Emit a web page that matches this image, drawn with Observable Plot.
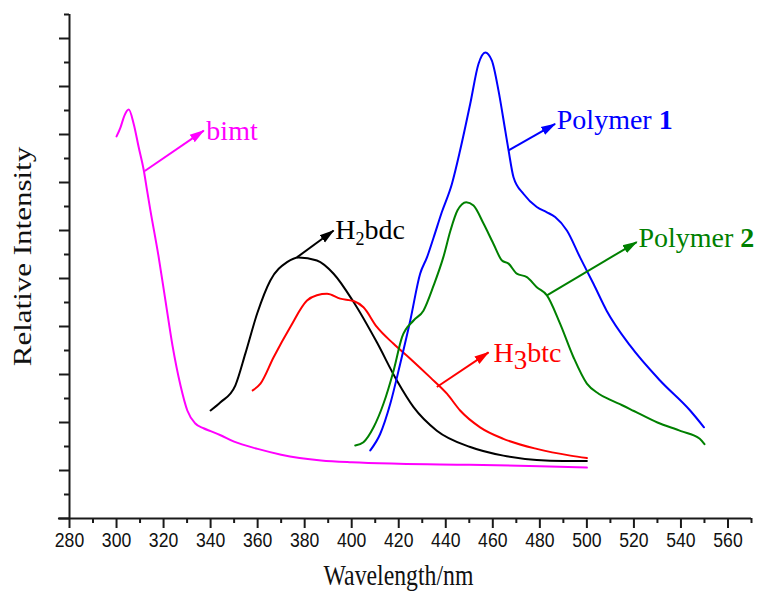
<!DOCTYPE html>
<html>
<head>
<meta charset="utf-8">
<script src="https://cdn.jsdelivr.net/npm/d3@7"></script>
<script src="https://cdn.jsdelivr.net/npm/@observablehq/plot@0.6"></script>
<style>
  body { margin: 0; background: #fff; }
  #chart { width: 758px; height: 594px; }
</style>
</head>
<body>
<div id="chart"></div>
<script>
// ---- data (wavelength in nm, relative intensity in arbitrary units) ----
const bimtX = [300, 301.7, 303.4, 305.2, 307.3, 309.4, 311.6, 313, 314.4, 317.8, 320.8, 323.8, 327.2, 330.1, 333.5, 337, 340, 344, 350, 360, 370, 387, 400, 420, 450, 480, 500];
const bimtY = [7.96, 8.15, 8.4, 8.52, 8.22, 7.74, 7.25, 6.83, 6.42, 5.48, 4.54, 3.6, 2.77, 2.25, 1.98, 1.88, 1.82, 1.74, 1.6, 1.45, 1.33, 1.21, 1.17, 1.14, 1.12, 1.09, 1.06];

const h2bdcX = [340, 344.2, 350.5, 354.8, 359.8, 365.4, 372.5, 377.4, 385.2, 392.3, 400.8, 410.7, 419.2, 426.3, 436.2, 450.4, 464.5, 478.7, 490, 500];
const h2bdcY = [2.25, 2.42, 2.77, 3.44, 4.27, 4.96, 5.34, 5.44, 5.375, 5.1, 4.51, 3.67, 2.875, 2.32, 1.83, 1.49, 1.31, 1.22, 1.2, 1.2];

const h3btcX = [357.9, 361.2, 366.8, 373.9, 381, 385.2, 389.5, 395.1, 400.8, 405, 410.7, 417.8, 424.9, 433.4, 440.5, 446.1, 454.6, 464.5, 478.7, 493, 500];
const h3btcY = [2.67, 2.81, 3.36, 3.99, 4.54, 4.65, 4.68, 4.58, 4.53, 4.40, 3.99, 3.64, 3.33, 2.94, 2.60, 2.25, 1.90, 1.66, 1.45, 1.31, 1.26];

const poly1X = [407.9, 412.1, 416.4, 420.6, 424.9, 429.1, 432, 434.8, 438.3, 442.6, 446.1, 450.4, 453.9, 456.8, 459.6, 462.4, 465.3, 466.7, 468.8, 473.1, 478.7, 483, 486.5, 491.5, 497.1, 502.8, 508.4, 518.4, 531.1, 543.9, 549.8];
const poly1Y = [1.42, 1.76, 2.39, 3.22, 4.125, 5.10, 5.44, 5.85, 6.38, 6.97, 7.67, 8.64, 9.47, 9.71, 9.54, 8.92, 8.08, 7.67, 7.11, 6.76, 6.49, 6.38, 6.28, 6.0, 5.44, 4.89, 4.33, 3.6, 2.875, 2.25, 1.90];

const poly2X = [401.5, 405, 409.3, 413.5, 417.8, 421.4, 426.3, 430.5, 434.8, 439, 442, 445, 448.7, 451.8, 456.1, 460.3, 463.9, 466.7, 470.2, 474.5, 478.7, 483, 488.6, 494.3, 500, 505, 510, 515, 520, 530, 540, 548, 550];
const poly2Y = [1.52, 1.59, 1.90, 2.39, 3.08, 3.78, 4.125, 4.33, 4.85, 5.45, 6.0, 6.42, 6.59, 6.52, 6.14, 5.72, 5.375, 5.31, 5.10, 5.03, 4.82, 4.65, 4.06, 3.36, 2.81, 2.6, 2.47, 2.36, 2.24, 2.0, 1.82, 1.66, 1.55];

const seriesNames = ["bimt", "H2bdc", "H3btc", "Polymer 1", "Polymer 2"];
const seriesColors = ["#ff00ff", "#000000", "#ff0000", "#0000ff", "#008000"];
const seriesX = [bimtX, h2bdcX, h3btcX, poly1X, poly2X];
const seriesY = [bimtY, h2bdcY, h3btcY, poly1Y, poly2Y];

// annotation arrows: from curve (x1,y1) to label (x2,y2)
const arrowX1 = [312, 376.7, 436.2, 466.7, 483];
const arrowY1 = [7.24, 5.44, 2.74, 7.67, 4.65];
const arrowX2 = [337.1, 392.3, 458.2, 486.5, 521.2];
const arrowY2 = [8.08, 6.0, 3.46, 8.22, 5.76];
const labelX = [338.2, 393, 460.3, 487.2, 521.9];
const labelY = [8.08, 6.02, 3.44, 8.31, 5.84];

const xMajor = d3.range(280, 561, 20);
const xMinor = d3.range(290, 571, 20);
const yMajor = d3.range(0, 10.01, 1);
const yMinor = d3.range(0.5, 10.51, 1);

const xTitle = "Wavelength/nm";
const yTitle = "Relative Intensity";

// ---- marks ----
const axisColor = "#1a1a1a";
const serif = "Liberation Serif, Times New Roman, serif";
const marks = [];

seriesNames.forEach((name, k) => {
  const rows = seriesX[k].map((x, i) => ({x, y: seriesY[k][i]}));
  marks.push(Plot.line(rows, {x: "x", y: "y", stroke: seriesColors[k], strokeWidth: 2, curve: "monotone-x"}));
});

seriesNames.forEach((name, k) => {
  marks.push(Plot.link([k], {
    x1: (i) => arrowX1[i], y1: (i) => arrowY1[i],
    x2: (i) => arrowX2[i], y2: (i) => arrowY2[i],
    stroke: seriesColors[k], strokeWidth: 2, markerEnd: "arrow"
  }));
  marks.push(Plot.text([k], {
    x: (i) => labelX[i], y: (i) => labelY[i], text: (i) => seriesNames[i],
    fill: seriesColors[k], textAnchor: "start", lineAnchor: "middle",
    fontSize: 28, fontFamily: serif
  }));
});

// axes
marks.push(Plot.ruleX([280], {y1: 0, y2: 10.5, stroke: axisColor, strokeWidth: 2}));
marks.push(Plot.ruleY([0], {x1: 275.3, x2: 570, stroke: axisColor, strokeWidth: 2}));
marks.push(Plot.axisX({anchor: "bottom", ticks: xMajor, tickSize: 10, tickPadding: 4, tickFormat: (d) => String(d),
  fontSize: 21, fontFamily: "Liberation Sans, Arial, sans-serif", stroke: axisColor, strokeWidth: 2, fill: "#111", label: null}));
marks.push(Plot.axisX({anchor: "bottom", ticks: xMinor, tickSize: 5, tickFormat: () => "", stroke: axisColor, strokeWidth: 2, label: null}));
marks.push(Plot.axisY({anchor: "left", ticks: yMajor, tickSize: 10, tickFormat: () => "", stroke: axisColor, strokeWidth: 2, label: null}));
marks.push(Plot.axisY({anchor: "left", ticks: yMinor, tickSize: 5, tickFormat: () => "", stroke: axisColor, strokeWidth: 2, label: null}));

marks.push(Plot.text([xTitle], {frameAnchor: "bottom", textAnchor: "middle", lineAnchor: "middle", dx: -12, dy: 57,
  fontSize: 29, fontFamily: serif, fill: "#111"}));
marks.push(Plot.text([yTitle], {frameAnchor: "left", textAnchor: "middle", lineAnchor: "middle", rotate: -90, dx: -47, dy: -10,
  fontSize: 31, fontFamily: serif, fill: "#111"}));

const plot = Plot.plot({
  width: 758,
  height: 594,
  marginLeft: 69,
  marginRight: 7,
  marginTop: 14,
  marginBottom: 76,
  x: {domain: [280, 570]},
  y: {domain: [0, 10.5]},
  style: {background: "#fff", fontFamily: "Liberation Sans, Arial, sans-serif", overflow: "visible"},
  marks
});
document.getElementById("chart").append(plot);

// ---- post-processing: filled arrowheads, squeezed axis text, sub/bold labels ----
const svg = d3.select(plot);
svg.selectAll("marker").each(function () {
  const m = d3.select(this);
  const color = m.attr("stroke");
  m.attr("viewBox", "-14 -6 15 12").attr("markerWidth", 15).attr("markerHeight", 12)
   .attr("markerUnits", "userSpaceOnUse").attr("fill", color).attr("stroke", "none");
  m.select("path").attr("d", "M-14,-4.5L1,0L-14,4.5Z");
});

const squeeze = 0.84;
svg.selectAll('g[aria-label="x-axis tick label"]').attr("font-size", 21);
svg.selectAll('g[aria-label="x-axis tick label"] text').each(function () {
  const t = this.getAttribute("transform") || "";
  this.setAttribute("transform", t + ` scale(${squeeze},1)`);
});
svg.selectAll("text").each(function () {
  const s = this.textContent;
  const t = this.getAttribute("transform") || "";
  if (s === xTitle) this.setAttribute("transform", t + ` scale(0.82,1)`);
  else if (s === yTitle) this.setAttribute("transform", t + ` scale(1,0.82)`);
  else if (s === "H2bdc" || s === "H3btc") {
    const sub = s[1], rest = s.slice(2);
    const size = s === "H2bdc" ? 18 : 27;
    const shift = s === "H2bdc" ? 6 : 7;
    const el = d3.select(this);
    el.text("");
    el.append("tspan").text("H");
    el.append("tspan").attr("font-size", size).attr("dy", shift).text(sub);
    el.append("tspan").attr("dy", -shift).text(rest);
  } else if (s === "Polymer 1" || s === "Polymer 2") {
    const el = d3.select(this);
    el.text("");
    el.append("tspan").text("Polymer ");
    el.append("tspan").attr("font-weight", "bold").text(s.slice(-1));
  }
});
</script>
</body>
</html>
